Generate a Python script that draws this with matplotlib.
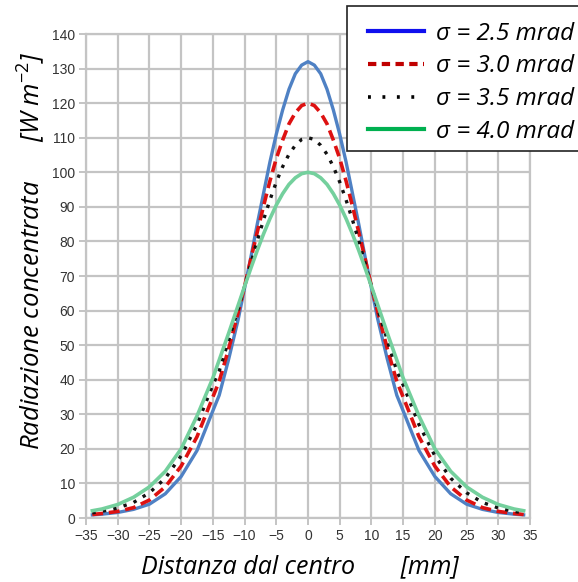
import matplotlib
matplotlib.use('Agg')
import matplotlib.pyplot as plt
from matplotlib.lines import Line2D
from matplotlib.patches import Rectangle

# distance from centre [mm], right half (the profiles are symmetric)
half_x = [0, 1, 2, 3, 4, 5, 6, 7, 8, 9, 10, 11, 12.5, 14, 15, 17.5, 20, 22.5, 25, 27.5, 30, 32.5, 34]

# concentrated radiation [W m-2]
half_25 = [132, 131, 128.5, 124, 118, 111, 103, 94, 85, 75.5, 66.5, 57.5, 46, 35.5, 31,
           19.5, 12, 7, 4, 2.5, 1.6, 1.1, 0.9]
half_30 = [120, 119.3, 117.2, 114, 109.3, 104, 97.5, 90.3, 82.7, 75, 67, 59.5, 49, 39.5, 35,
           23.5, 15, 9, 5.2, 3, 1.9, 1.3, 1.0]
half_35 = [110, 109.5, 107.8, 105.2, 101.6, 97.2, 92, 86.3, 80.2, 73.7, 67, 60.5, 51.5, 42.5, 38.5,
           27, 18, 11.5, 7.3, 4.5, 2.9, 1.9, 1.5]
half_40 = [100, 99.6, 98.4, 96.5, 93.8, 90.5, 86.6, 82.2, 77.4, 72.3, 67, 61.6, 53.5, 45.7, 40.5,
           29.5, 20, 13.5, 9, 6, 3.9, 2.6, 2.1]

labels = ['σ = 2.5 mrad', 'σ = 3.0 mrad', 'σ = 3.5 mrad', 'σ = 4.0 mrad']


def mirror_x(h):
    return [-v for v in h[:0:-1]] + h


def mirror_y(h):
    return h[:0:-1] + h


x_mm = mirror_x(half_x)
series = [mirror_y(half_25), mirror_y(half_30), mirror_y(half_35), mirror_y(half_40)]

plt.rcParams['mathtext.fontset'] = 'custom'
plt.rcParams['mathtext.rm'] = 'Open Sans'
plt.rcParams['mathtext.it'] = 'Open Sans:italic'

W, H = 578, 582
fig = plt.figure(figsize=(W / 100, H / 100), dpi=100)
ax = fig.add_axes([86 / W, 1 - 518 / H, (530 - 86) / W, (518 - 34) / H])

# plot lines
styles = [
    dict(color='#4f81c4', lw=2.4, ls='-'),
    dict(color='#dd1111', lw=2.6, ls=(0, (3, 1.6))),
    dict(color='#111111', lw=2.4, ls=(0, (1, 2.2))),
    dict(color='#74d09d', lw=2.6, ls='-'),
]
for y, st in zip(series, styles):
    ax.plot(x_mm, y, **st)

ax.set_xlim(-35, 35)
ax.set_ylim(0, 140)
ax.set_xticks(range(-35, 36, 5))
ax.set_yticks(range(0, 141, 10))
ax.grid(True, color='#c4c4c4', lw=1.6)
ax.set_axisbelow(True)
for sp in ax.spines.values():
    sp.set_color('#c4c4c4')
    sp.set_linewidth(1.6)
ax.tick_params(direction='out', length=5, width=1.4, color='#c4c4c4',
               labelsize=10, labelcolor='#333333', pad=3)
for lab in ax.get_xticklabels() + ax.get_yticklabels():
    lab.set_family('Liberation Sans')

# axis titles
fig.text(31 / W, 1 - 251 / H,
         'Radiazione concentrata      [W m$^{-2}$]',
         rotation=90, ha='center', va='center', fontsize=18.5,
         family='Open Sans', style='italic')
fig.text(300 / W, 1 - 567 / H,
         'Distanza dal centro       [mm]',
         ha='center', va='center', fontsize=18,
         family='Open Sans', style='italic')

# legend box: it runs past the right edge of the picture, as in the original
fig.patches.append(Rectangle((347 / W, 1 - 151 / H), 260 / W, 145 / H,
                             transform=fig.transFigure, facecolor='white',
                             edgecolor='#222222', lw=1.2, zorder=3))

# legend entries (colours differ a bit from the plotted lines, as in the original)
handles = [
    Line2D([], [], color='#1010ee', lw=3, ls='-'),
    Line2D([], [], color='#c00000', lw=3, ls=(0, (2, 1.3))),
    Line2D([], [], color='#000000', lw=2.6, ls=(0, (0.8, 3.2))),
    Line2D([], [], color='#00b050', lw=3, ls='-'),
]
leg = fig.legend(handles, labels, loc='upper left',
                 bbox_to_anchor=(347 / W, 1 - 1 / H),
                 prop={'family': 'Open Sans', 'style': 'italic', 'size': 17.5},
                 handlelength=2.3, handletextpad=0.5, labelspacing=0.36,
                 borderpad=0.85, borderaxespad=0, frameon=False)
leg.set_zorder(4)

fig.savefig('out.png', dpi=100)
